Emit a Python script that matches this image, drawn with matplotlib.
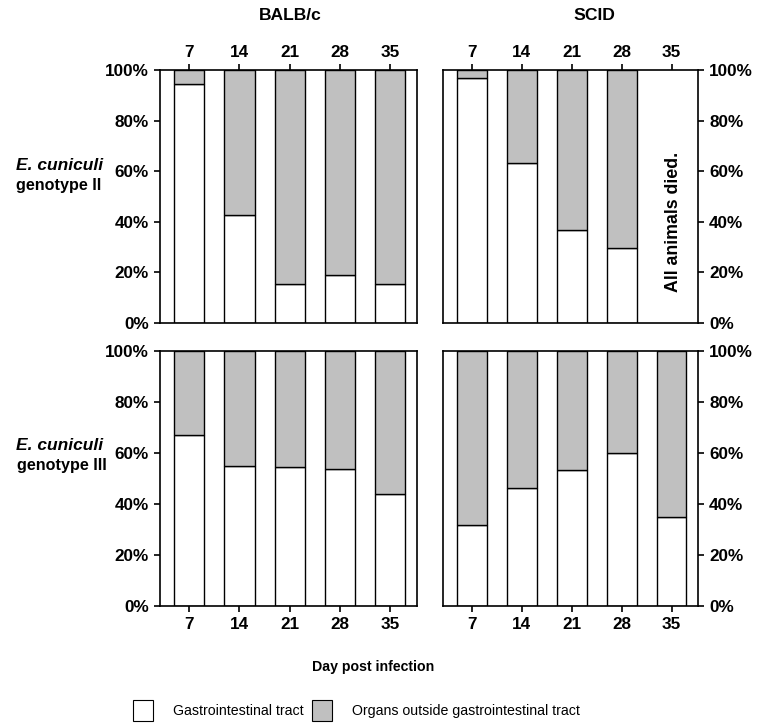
import numpy as np
import matplotlib
matplotlib.use("Agg")
import matplotlib.pyplot as plt
from matplotlib.patches import Patch

plt.rcParams['font.family'] = ['Liberation Sans', 'DejaVu Sans']
plt.rcParams['font.weight'] = 'bold'

# % of parasites found in the gastrointestinal tract (rest = outside GI tract)
days = [7, 14, 21, 28, 35]
balb_g2 = [94.5, 42.8, 15.4, 18.9, 15.5]
scid_g2 = [96.7, 63.2, 36.8, 29.6, np.nan]   # all animals died by day 35
balb_g3 = [66.9, 54.8, 54.4, 53.7, 43.9]
scid_g3 = [31.9, 46.3, 53.5, 60.0, 34.9]

gray = '#c0c0c0'
fig = plt.figure(figsize=(7.58, 7.25), dpi=100)

ax_tl = fig.add_axes([0.2111, 0.5545, 0.339, 0.349])
ax_tr = fig.add_axes([0.5844, 0.5545, 0.3364, 0.349])
ax_bl = fig.add_axes([0.2111, 0.1641, 0.339, 0.3517])
ax_br = fig.add_axes([0.5844, 0.1641, 0.3364, 0.3517])

panels = [(ax_tl, balb_g2), (ax_tr, scid_g2), (ax_bl, balb_g3), (ax_br, scid_g3)]
x = np.arange(len(days))

for ax, gi in panels:
    gi = np.array(gi, dtype=float)
    ok = ~np.isnan(gi)
    ax.bar(x[ok], gi[ok], width=0.6, color='white', edgecolor='black', linewidth=1)
    ax.bar(x[ok], 100 - gi[ok], bottom=gi[ok], width=0.6, color=gray,
           edgecolor='black', linewidth=1)
    ax.set_xlim(-0.58, 4.53)
    ax.set_ylim(0, 100)
    ax.set_xticks(x)
    ax.set_xticklabels([str(d) for d in days])
    ax.set_yticks([0, 20, 40, 60, 80, 100])
    ax.set_yticklabels(['0%', '20%', '40%', '60%', '80%', '100%'])
    for s in ax.spines.values():
        s.set_linewidth(1.2)
    ax.tick_params(length=4.5, width=1.2, labelsize=12.3)

# top row: x labels on top
for ax in (ax_tl, ax_tr):
    ax.xaxis.tick_top()
    ax.tick_params(axis='x', pad=3)
# right column: y labels on right
for ax in (ax_tr, ax_br):
    ax.yaxis.tick_right()

fig.text(0.3826, 0.979, 'BALB/c', ha='center', va='center', fontsize=12.6)
fig.text(0.7836, 0.979, 'SCID', ha='center', va='center', fontsize=12.6)

fig.text(0.078, 0.7724, 'E. cuniculi', ha='center', va='center', fontsize=12.5, style='italic')
fig.text(0.077, 0.7448, 'genotype II', ha='center', va='center', fontsize=11.6)
fig.text(0.078, 0.386, 'E. cuniculi', ha='center', va='center', fontsize=12.5, style='italic')
fig.text(0.081, 0.3586, 'genotype III', ha='center', va='center', fontsize=11.6)

ax_tr.text(4.03, 40, 'All animals died.', rotation=90, ha='center', va='center',
           fontsize=12.8)

fig.text(0.492, 0.080, 'Day post infection', ha='center', va='center', fontsize=10.2)

handles = [Patch(facecolor='white', edgecolor='black', linewidth=0.8),
           Patch(facecolor=gray, edgecolor='black', linewidth=0.8)]
fig.legend(handles, ['Gastrointestinal tract', 'Organs outside gastrointestinal tract'],
           loc='lower center', bbox_to_anchor=(0.470, -0.012), ncol=2, frameon=False,
           prop={'size': 10.2, 'weight': 'normal'}, handlelength=1.4, handleheight=1.9,
           columnspacing=0.6, handletextpad=1.4)

fig.savefig('out.png', dpi=100)
